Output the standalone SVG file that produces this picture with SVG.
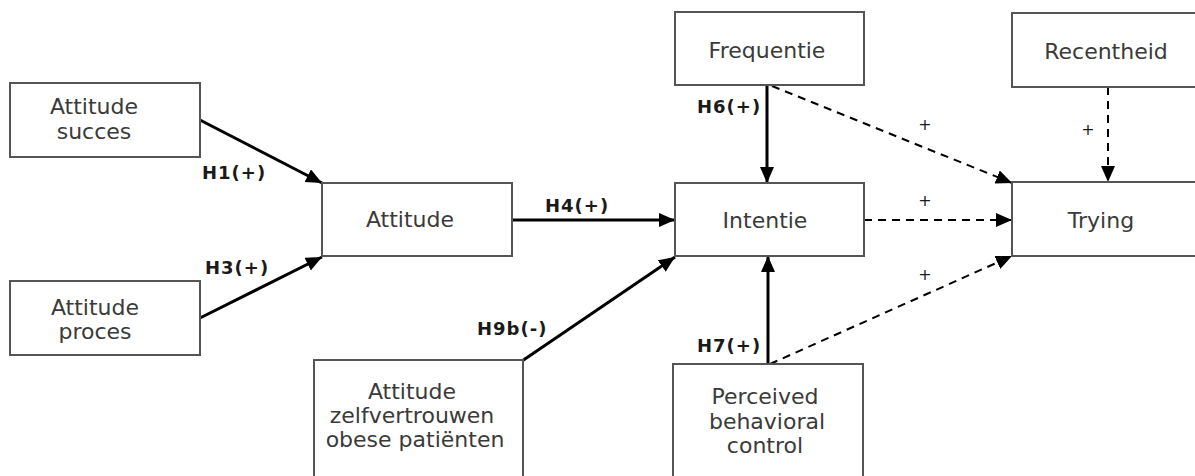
<svg xmlns="http://www.w3.org/2000/svg" width="1195" height="476" viewBox="0 0 1195 476">
  <style>
    .box { fill: #ffffff; stroke: #555555; stroke-width: 2; }
    .name { font-family: "DejaVu Sans", Verdana, sans-serif; font-size: 22px; fill: #3a3a3a; text-anchor: middle; }
    .hyp { font-family: "DejaVu Sans", Verdana, sans-serif; font-size: 18px; font-weight: bold; fill: #1a1a1a; letter-spacing: 1px; }
    .sign { font-family: "DejaVu Sans", Verdana, sans-serif; font-size: 16px; fill: #1a1a1a; text-anchor: middle; }
    .solid { stroke: #000000; stroke-width: 3; fill: none; marker-end: url(#head); }
    .dash { stroke: #000000; stroke-width: 2; stroke-dasharray: 8 6; fill: none; marker-end: url(#head); }
  </style>
  <defs>
    <marker id="head" markerUnits="userSpaceOnUse" markerWidth="17" markerHeight="15" refX="16" refY="7" orient="auto">
      <path d="M0,0 L16,7 L0,14 Z" fill="#000000"/>
    </marker>
  </defs>

  <rect width="1195" height="476" fill="#ffffff"/>

  <!-- connectors -->
  <g id="connectors">
    <line class="solid" x1="200" y1="120" x2="322" y2="183"/>
    <line class="solid" x1="200" y1="318" x2="322" y2="257"/>
    <line class="solid" x1="512" y1="220" x2="675" y2="220"/>
    <line class="solid" x1="522" y1="361" x2="675" y2="257"/>
    <line class="solid" x1="767" y1="85" x2="767" y2="183"/>
    <line class="solid" x1="768" y1="364" x2="768" y2="256"/>
    <line class="dash" x1="772" y1="86" x2="1012" y2="183"/>
    <line class="dash" x1="864" y1="220" x2="1012" y2="220"/>
    <line class="dash" x1="770" y1="364" x2="1012" y2="256"/>
    <line class="dash" x1="1108" y1="87" x2="1108" y2="182"/>

    <text class="hyp" x="202" y="179">H1(+)</text>
    <text class="hyp" x="205" y="274">H3(+)</text>
    <text class="hyp" x="545" y="212">H4(+)</text>
    <text class="hyp" x="477" y="335">H9b(-)</text>
    <text class="hyp" x="697" y="113">H6(+)</text>
    <text class="hyp" x="697" y="352">H7(+)</text>

    <text class="sign" x="925" y="130">+</text>
    <text class="sign" x="925" y="206">+</text>
    <text class="sign" x="925" y="280">+</text>
    <text class="sign" x="1088" y="135">+</text>
  </g>

  <!-- nodes -->
  <g id="attitude-succes">
    <rect class="box" x="10" y="83" width="190" height="74"/>
    <text class="name" x="94" y="114">Attitude</text>
    <text class="name" x="94" y="139">succes</text>
  </g>
  <g id="attitude-proces">
    <rect class="box" x="10" y="281" width="190" height="74"/>
    <text class="name" x="95" y="315">Attitude</text>
    <text class="name" x="95" y="339">proces</text>
  </g>
  <g id="attitude">
    <rect class="box" x="322" y="183" width="190" height="73"/>
    <text class="name" x="410" y="227">Attitude</text>
  </g>
  <g id="attitude-zelfvertrouwen">
    <rect class="box" x="314" y="360" width="209" height="130"/>
    <text class="name" x="412" y="399">Attitude</text>
    <text class="name" x="412" y="423">zelfvertrouwen</text>
    <text class="name" x="415" y="447">obese patiënten</text>
  </g>
  <g id="frequentie">
    <rect class="box" x="675" y="12" width="189" height="73"/>
    <text class="name" x="767" y="58">Frequentie</text>
  </g>
  <g id="intentie">
    <rect class="box" x="675" y="183" width="189" height="73"/>
    <text class="name" x="765" y="228">Intentie</text>
  </g>
  <g id="perceived-behavioral-control">
    <rect class="box" x="673" y="364" width="190" height="130"/>
    <text class="name" x="765" y="404">Perceived</text>
    <text class="name" x="767" y="429">behavioral</text>
    <text class="name" x="765" y="453">control</text>
  </g>
  <g id="recentheid">
    <rect class="box" x="1012" y="13" width="200" height="74"/>
    <text class="name" x="1106" y="59">Recentheid</text>
  </g>
  <g id="trying">
    <rect class="box" x="1012" y="182" width="200" height="74"/>
    <text class="name" x="1101" y="228">Trying</text>
  </g>
</svg>
